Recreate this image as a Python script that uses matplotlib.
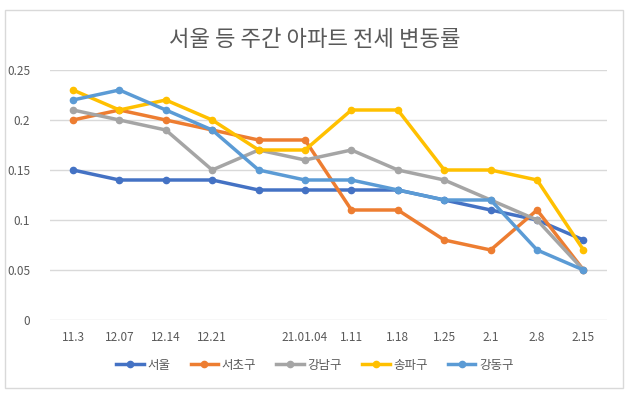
import matplotlib.pyplot as plt
import matplotlib.patches as mpatches
import numpy as np

plt.rcParams['font.family'] = ['Noto Sans CJK KR', 'DejaVu Sans']

dates = ['11.3', '12.07', '12.14', '12.21', '', '21.01.04', '1.11', '1.18', '1.25', '2.1', '2.8', '2.15']
seoul = [0.15, 0.14, 0.14, 0.14, 0.13, 0.13, 0.13, 0.13, 0.12, 0.11, 0.10, 0.08]
seocho = [0.20, 0.21, 0.20, 0.19, 0.18, 0.18, 0.11, 0.11, 0.08, 0.07, 0.11, 0.05]
gangnam = [0.21, 0.20, 0.19, 0.15, 0.17, 0.16, 0.17, 0.15, 0.14, 0.12, 0.10, 0.05]
songpa = [0.23, 0.21, 0.22, 0.20, 0.17, 0.17, 0.21, 0.21, 0.15, 0.15, 0.14, 0.07]
gangdong = [0.22, 0.23, 0.21, 0.19, 0.15, 0.14, 0.14, 0.13, 0.12, 0.12, 0.07, 0.05]

series = [('서울', seoul, '#4472C4'),
          ('서초구', seocho, '#ED7D31'),
          ('강남구', gangnam, '#A5A5A5'),
          ('송파구', songpa, '#FFC000'),
          ('강동구', gangdong, '#5B9BD5')]

fig = plt.figure(figsize=(6.3, 4), dpi=100)
fig.patches.append(mpatches.Rectangle((0.008, 0.03), 0.981, 0.945, transform=fig.transFigure,
                                      fill=False, edgecolor='#D9D9D9', linewidth=1))
ax = fig.add_axes([0.079, 0.2, 0.884, 0.625])

x = np.arange(len(dates))
for name, vals, c in series:
    ax.plot(x, vals, color=c, linewidth=2.5, marker='o', markersize=4.5, label=name)

ax.set_xlim(-0.5, len(dates) - 0.5)
ax.set_ylim(0, 0.25)
ax.set_yticks([0, 0.05, 0.1, 0.15, 0.2, 0.25])
ax.set_yticklabels(['0', '0.05', '0.1', '0.15', '0.2', '0.25'])
ax.set_xticks(x)
ax.set_xticklabels(dates)
ax.grid(axis='y', color='#D9D9D9', linewidth=1)
ax.set_axisbelow(True)
for s in ax.spines.values():
    s.set_visible(False)
ax.tick_params(length=0, labelsize=8.5, colors='#595959', pad=8)
ax.tick_params(axis='y', pad=14)

fig.text(0.5, 0.9, '서울 등 주간 아파트 전세 변동률', ha='center', va='center', fontsize=16, color='#595959')
fig.legend(loc='center', bbox_to_anchor=(0.5, 0.087), ncol=5, frameon=False, fontsize=9,
           handlelength=2.2, columnspacing=1.6, handletextpad=0.3, labelcolor='#595959')

fig.savefig('out.png', dpi=100)
